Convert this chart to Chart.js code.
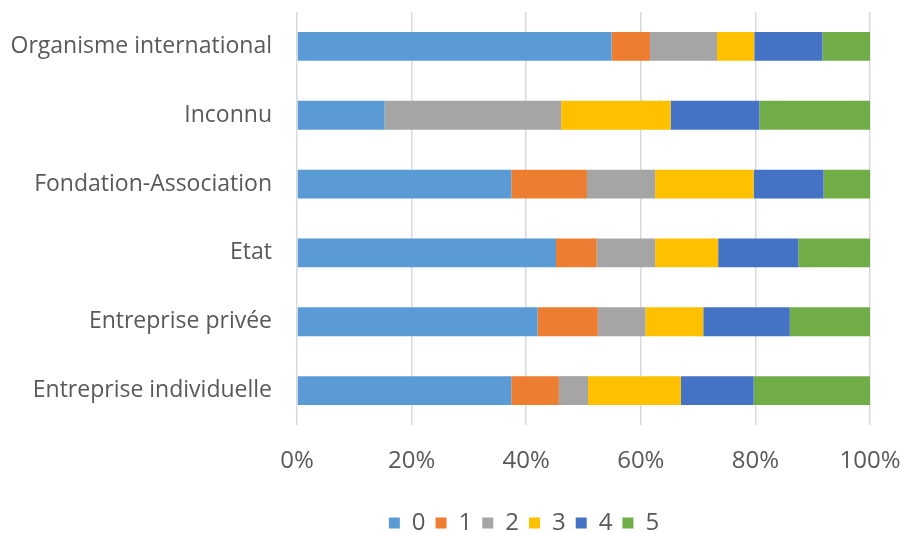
<!DOCTYPE html>
<html>
<head>
<meta charset="utf-8">
<script src="https://cdn.jsdelivr.net/npm/chart.js@4/dist/chart.umd.min.js"></script>
<style>
  html, body { margin: 0; padding: 0; background: #fff; }
  #wrap { width: 901px; height: 533px; }
</style>
</head>
<body>
<div id="wrap"><canvas id="barChart"></canvas></div>
<script>
  'use strict';

  // categories (top to bottom)
  var categories = ['Organisme international', 'Inconnu', 'Fondation-Association', 'Etat', 'Entreprise privée', 'Entreprise individuelle'];

  // share of each score, in %
  var s0 = [54.9, 15.3, 37.4, 45.2, 42.0, 37.4];
  var s1 = [6.7, 0, 13.2, 7.1, 10.5, 8.3];
  var s2 = [11.7, 30.8, 11.9, 10.2, 8.3, 5.1];
  var s3 = [6.5, 19.1, 17.2, 11.0, 10.1, 16.2];
  var s4 = [11.9, 15.5, 12.2, 14.0, 15.1, 12.7];
  var s5 = [8.3, 19.3, 8.1, 12.5, 14.0, 20.3];

  var seriesNames = ['0', '1', '2', '3', '4', '5'];
  var seriesValues = [s0, s1, s2, s3, s4, s5];
  var colors = ['#5B9BD5', '#ED7D31', '#A5A5A5', '#FFC000', '#4472C4', '#70AD47'];

  var datasets = [];
  for (let i = 0; i < seriesNames.length; i++) {
    datasets.push({
      label: seriesNames[i],
      data: seriesValues[i],
      backgroundColor: colors[i],
      borderWidth: 0,
      barPercentage: 0.42,
      categoryPercentage: 1
    });
  }

  var textColor = '#595959';
  var fontFamily = "'Open Sans', 'Noto Sans', sans-serif";

  // the legend sits a bit right of the canvas centre in the original
  var legendShift = {
    id: 'legendShift',
    afterLayout: function(chart) {
      chart.legend.left = 178;
    }
  };

  var ctx = document.getElementById('barChart').getContext('2d');
  new Chart(ctx, {
    type: 'bar',
    data: { labels: categories, datasets: datasets },
    plugins: [legendShift],
    options: {
      indexAxis: 'y',
      responsive: true,
      maintainAspectRatio: false,
      animation: false,
      layout: { padding: { top: 12, right: 31, bottom: -12, left: 0 } },
      scales: {
        x: {
          stacked: true,
          min: 0,
          max: 100,
          afterFit: function(scale) {
            scale.height = 76;
            scale.paddingLeft = 0;
            scale.paddingRight = 0;
          },
          ticks: {
            stepSize: 20,
            color: textColor,
            padding: 22,
            maxRotation: 0,
            font: { family: fontFamily, size: 24 },
            callback: function(v) { return v + '%'; }
          },
          grid: { color: '#d9d9d9', lineWidth: 1.5, drawTicks: false },
          border: { display: false }
        },
        y: {
          stacked: true,
          afterFit: function(scale) {
            scale.width = 297;
            scale.paddingTop = 0;
            scale.paddingBottom = 0;
          },
          ticks: {
            color: textColor,
            padding: 25,
            font: { family: fontFamily, size: 23 }
          },
          grid: { display: false, drawTicks: false },
          border: { display: false }
        }
      },
      plugins: {
        legend: {
          position: 'bottom',
          labels: {
            color: textColor,
            boxWidth: 11,
            boxHeight: 11,
            padding: 10,
            font: { family: fontFamily, size: 24 }
          }
        },
        tooltip: { enabled: false }
      }
    }
  });
</script>
</body>
</html>
